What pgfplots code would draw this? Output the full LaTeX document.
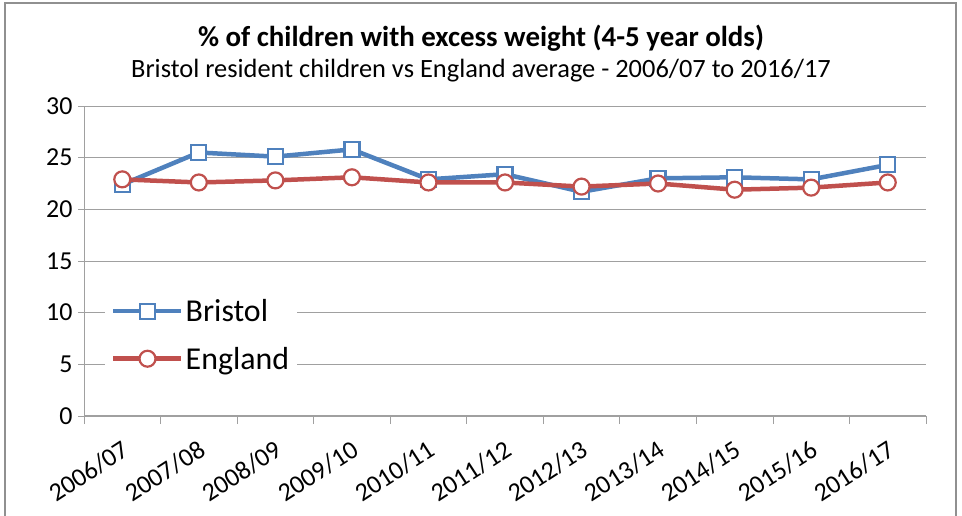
\documentclass[border=0pt]{standalone}
\usepackage{pgfplots}
\pgfplotsset{compat=1.18}
\usepackage{fontspec}
\setmainfont{Carlito}
\definecolor{xblue}{HTML}{4F81BD}
\definecolor{xred}{HTML}{C0504D}
\definecolor{xgrid}{HTML}{A0A0A0}
\begin{document}
\begin{tikzpicture}
\useasboundingbox (0bp,0bp) rectangle (962bp,516bp);
\draw[color=xgrid!90!black,line width=2bp] (5bp,-2bp) -- (5bp,513bp) -- (956bp,513bp) -- (956bp,-2bp);
\node[font=\fontsize{29}{34}\selectfont\bfseries] at (481bp,478bp) {\% of children with excess weight (4-5 year olds)};
\node[font=\fontsize{26.5}{30}\selectfont] at (481bp,445bp) {Bristol resident children vs England average - 2006/07 to 2016/17};
\begin{axis}[
  at={(84bp,100bp)}, anchor=south west,
  scale only axis, width=842bp, height=310bp,
  xmin=-0.5, xmax=10.5, ymin=0, ymax=30,
  xtick={0,...,10},
  xticklabels={2006/07,2007/08,2008/09,2009/10,2010/11,2011/12,2012/13,2013/14,2014/15,2015/16,2016/17},
  minor xtick={-0.5,0.5,...,10.5},
  major x tick style={draw=none},
  minor x tick style={draw=xgrid,line width=0.8bp},
  x tick label style={rotate=33,anchor=north east,font=\fontsize{26}{29}\selectfont,xshift=-7bp,yshift=-10bp},
  ytick={0,5,...,30},
  y tick label style={font=\fontsize{26}{28}\selectfont,xshift=-2bp},
  /pgf/number format/assume math mode=true,
  ymajorgrids, major grid style={draw=xgrid,line width=0.9bp},
  tick align=outside, major tick length=6bp, minor tick length=8bp,
  ytick style={draw=xgrid,line width=0.8bp},
  axis line style={draw=xgrid,line width=1bp},
  axis x line*=bottom, axis y line*=left,
  clip=false,
  legend style={at={(0.025,0.39)},anchor=north west,draw=none,fill=white,
    font=\fontsize{32}{36}\selectfont,row sep=20bp,inner xsep=6bp,inner ysep=2bp},
  legend cell align=left,
  legend image code/.code={\draw[#1,line width=4.5bp] (0bp,0bp) -- (68bp,0bp);
     \draw[#1,mark repeat=1] plot coordinates {(34bp,0bp)};},
]
\addplot[color=xblue,line width=4.5bp,mark=square*,mark size=7.5bp,
  mark options={fill=white,draw=xblue,line width=2.2bp}] coordinates {
(0,22.4)(1,25.5)(2,25.1)(3,25.8)(4,22.9)(5,23.4)(6,21.7)(7,23.0)(8,23.1)(9,22.9)(10,24.3)};
\addlegendentry{Bristol}
\addplot[color=xred,line width=4.5bp,mark=*,mark size=8bp,
  mark options={fill=white,draw=xred,line width=2.2bp}] coordinates {
(0,22.9)(1,22.6)(2,22.8)(3,23.1)(4,22.6)(5,22.6)(6,22.2)(7,22.5)(8,21.9)(9,22.1)(10,22.6)};
\addlegendentry{England}
\end{axis}
\end{tikzpicture}
\end{document}
